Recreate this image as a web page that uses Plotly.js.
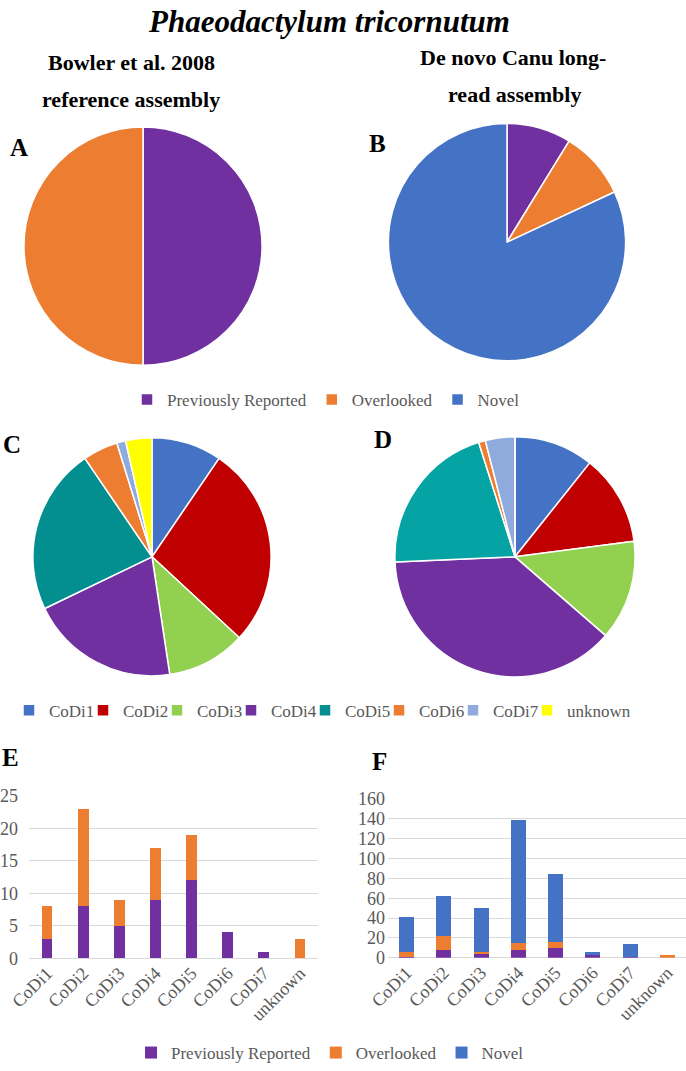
<!DOCTYPE html>
<html>
<head>
<meta charset="utf-8">
<script src="https://cdn.plot.ly/plotly-3.0.1.min.js"></script>
<style>html,body{margin:0;padding:0;background:#fff;width:686px;height:1071px;overflow:hidden;}#chart{width:686px;height:1071px;overflow:hidden;}</style>
</head>
<body>
<div id="chart"></div>
<script>
// ---- data ----
var seriesNames = ['Previously Reported', 'Overlooked', 'Novel'];
var codiCats = ['CoDi1', 'CoDi2', 'CoDi3', 'CoDi4', 'CoDi5', 'CoDi6', 'CoDi7', 'unknown'];
// Panel E: Bowler et al. 2008 reference assembly
var ePrev = [3, 8, 5, 9, 12, 4, 1, 0];
var eOver = [5, 15, 4, 8, 7, 0, 0, 3];
// Panel F: De novo Canu long-read assembly
var fPrev = [1, 8, 4, 8, 10, 3, 1, 0];
var fOver = [5, 14, 2, 7, 6, 0, 0, 3];
var fNovel = [35, 40, 44, 124, 68, 3, 13, 0];
var eTicks = [0, 5, 10, 15, 20, 25];
var fTicks = [0, 20, 40, 60, 80, 100, 120, 140, 160];

// ---- derived ----
function sum(a) { return a.reduce(function (s, v) { return s + v; }, 0); }
var eTotal = ePrev.map(function (v, i) { return v + eOver[i]; });
var pieA = [sum(ePrev), sum(eOver)];
var pieB = [sum(fPrev), sum(fOver), sum(fNovel)];

// ---- styles ----
var W = 686, H = 1071;
var FONT = 'Liberation Serif';
var GRAY = '#595959';
var cPrev = '#7030A0', cOver = '#ED7D31', cNovel = '#4472C4';
var codiColorsC = ['#4472C4', '#C00000', '#92D050', '#7030A0', '#038F8F', '#ED7D31', '#8FAADC', '#FFFF00'];
var codiColorsD = ['#4472C4', '#C00000', '#92D050', '#7030A0', '#06A3A5', '#ED7D31', '#8FAADC', '#FFFF00'];

function py(y) { return 1 - y / H; }
function dom(cx, cy, r) {
  return { x: [(cx - r) / W, (cx + r) / W], y: [py(cy + r), py(cy - r)] };
}
var pieLine = { color: '#ffffff', width: 1.5 };

var traces = [
  { type: 'pie', labels: seriesNames.slice(0, 2), values: pieA, sort: false, direction: 'clockwise',
    marker: { colors: [cPrev, cOver], line: pieLine }, textinfo: 'none', domain: dom(143, 248, 120), legend: 'legend' },
  { type: 'pie', labels: seriesNames, values: pieB, sort: false, direction: 'clockwise',
    marker: { colors: [cPrev, cOver, cNovel], line: pieLine }, textinfo: 'none', domain: dom(507, 244, 119.5), legend: 'legend' },
  { type: 'pie', labels: codiCats, values: eTotal, sort: false, direction: 'clockwise',
    marker: { colors: codiColorsC, line: pieLine }, textinfo: 'none', domain: dom(152, 561, 120), legend: 'legend2' },
  { type: 'pie', labels: codiCats, values: fNovel, sort: false, direction: 'clockwise',
    marker: { colors: codiColorsD, line: pieLine }, textinfo: 'none', domain: dom(515, 561, 121), legend: 'legend2' },
  { type: 'bar', name: seriesNames[0], x: codiCats, y: ePrev, xaxis: 'x', yaxis: 'y', width: 0.3,
    marker: { color: cPrev }, legend: 'legend3', legendgroup: 'p', showlegend: true },
  { type: 'bar', name: seriesNames[1], x: codiCats, y: eOver, xaxis: 'x', yaxis: 'y', width: 0.3,
    marker: { color: cOver }, legend: 'legend3', legendgroup: 'o', showlegend: true },
  { type: 'bar', name: seriesNames[0], x: codiCats, y: fPrev, xaxis: 'x2', yaxis: 'y2', width: 0.4,
    marker: { color: cPrev }, legend: 'legend3', legendgroup: 'p', showlegend: false },
  { type: 'bar', name: seriesNames[1], x: codiCats, y: fOver, xaxis: 'x2', yaxis: 'y2', width: 0.4,
    marker: { color: cOver }, legend: 'legend3', legendgroup: 'o', showlegend: false },
  { type: 'bar', name: seriesNames[2], x: codiCats, y: fNovel, xaxis: 'x2', yaxis: 'y2', width: 0.4,
    marker: { color: cNovel }, legend: 'legend3', legendgroup: 'n', showlegend: true }
];

function yDom(y0px, ytopPx) { return [py(y0px), py(ytopPx)]; }
var tickFont = { family: FONT, size: 18, color: GRAY };
var legFont = { family: FONT, size: 17, color: GRAY };

function ann(text, x, y, size, opts) {
  var a = { text: text, x: x / W, y: py(y), xref: 'paper', yref: 'paper', showarrow: false,
    xanchor: 'center', yanchor: 'middle', font: { family: FONT, size: size, color: '#000' } };
  if (opts) for (var k in opts) a[k] = opts[k];
  return a;
}

var layout = {
  width: W, height: H,
  margin: { l: 0, r: 0, t: 0, b: 0 },
  paper_bgcolor: '#fff', plot_bgcolor: '#fff',
  barmode: 'stack',
  showlegend: true,
  font: { family: FONT, color: GRAY },
  legend: { orientation: 'h', x: 326 / W, xanchor: 'center', y: py(403), yanchor: 'middle',
    font: legFont, bgcolor: 'rgba(0,0,0,0)', traceorder: 'normal', itemwidth: 30 },
  legend2: { orientation: 'h', x: 9 / W, xanchor: 'left', y: py(716), yanchor: 'middle',
    font: legFont, bgcolor: 'rgba(0,0,0,0)', entrywidth: 29, entrywidthmode: 'pixels', traceorder: 'normal', itemwidth: 30 },
  legend3: { orientation: 'h', x: 330 / W, xanchor: 'center', y: py(1061), yanchor: 'middle',
    font: legFont, bgcolor: 'rgba(0,0,0,0)', traceorder: 'normal', itemwidth: 30 },
  xaxis: { domain: [29 / W, 318 / W], anchor: 'y', type: 'category', tickangle: -45, tickfont: tickFont,
    showgrid: false, showline: false, ticks: '' },
  yaxis: { domain: yDom(965.5, 801.7), anchor: 'x', range: [0, 25], tickvals: eTicks, tickfont: tickFont,
    gridcolor: '#D9D9D9', gridwidth: 1, zeroline: true, zerolinecolor: '#D9D9D9', zerolinewidth: 1,
    showline: false, ticks: '', ticklabelstandoff: 10 },
  xaxis2: { domain: [388 / W, 686 / W], anchor: 'y2', type: 'category', tickangle: -45, tickfont: tickFont,
    showgrid: false, showline: false, ticks: '' },
  yaxis2: { domain: yDom(965, 805), anchor: 'x2', range: [0, 160], tickvals: fTicks, tickfont: tickFont,
    gridcolor: '#D9D9D9', gridwidth: 1, zeroline: true, zerolinecolor: '#D9D9D9', zerolinewidth: 1,
    showline: false, ticks: '', ticklabelstandoff: 2 },
  annotations: [
    ann('<b><i>Phaeodactylum tricornutum</i></b>', 329, 22, 31),
    ann('<b>Bowler et al. 2008</b>', 131, 63, 22),
    ann('<b>reference assembly</b>', 131, 100, 22),
    ann('<b>De novo Canu long-</b>', 513, 58, 22),
    ann('<b>read assembly</b>', 514, 95, 22),
    ann('<b>A</b>', 19, 149, 25),
    ann('<b>B</b>', 377, 145, 25),
    ann('<b>C</b>', 12, 448, 25),
    ann('<b>D</b>', 383, 443, 25),
    ann('<b>E</b>', 10, 763, 25),
    ann('<b>F</b>', 379, 767, 25)
  ]
};

Plotly.newPlot('chart', traces, layout, { staticPlot: true, displayModeBar: false }).then(function (gd) {
  // let the fixed-width legend entries show their full text
  var boxes = gd.querySelectorAll('.legend .scrollbox, [class^="legend"] .scrollbox');
  boxes.forEach(function (b) { b.removeAttribute('clip-path'); });
});
</script>
</body>
</html>
